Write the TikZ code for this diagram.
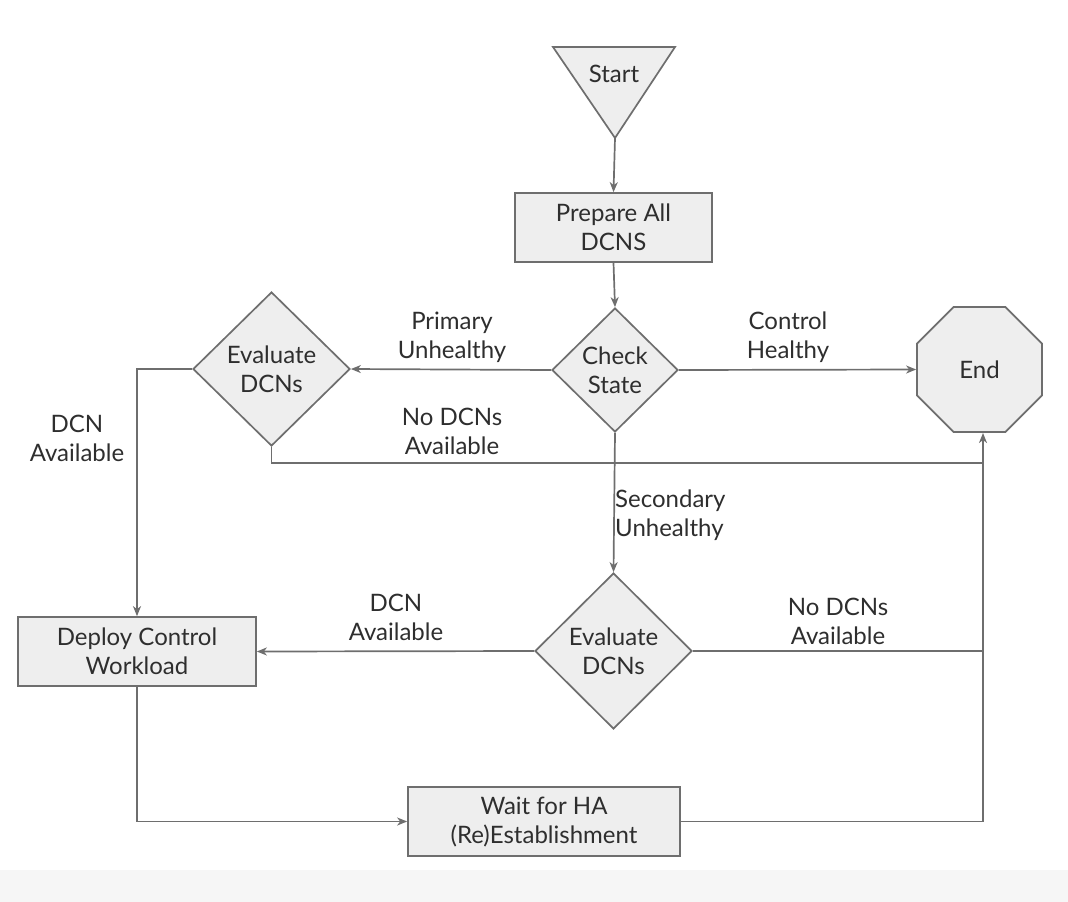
\documentclass[tikz,border=0pt]{standalone}
\usepackage{fontspec}
\setmainfont{Lato}
\usetikzlibrary{shapes.geometric,arrows.meta}
\definecolor{fillg}{HTML}{EEEEEE}
\definecolor{lineg}{HTML}{6E6E6E}
\definecolor{textg}{HTML}{2E2E2E}
\definecolor{stripg}{HTML}{F6F6F6}
\begin{document}
\begin{tikzpicture}[x=1pt,y=-1pt,
  font=\fontsize{24}{29}\selectfont, text=textg,
  shp/.style={draw=lineg, fill=fillg, line width=1.7pt, inner sep=0pt, align=center},
  box/.style={shp, rectangle},
  dia/.style={shp, diamond, aspect=1},
  oct/.style={shp, regular polygon, regular polygon sides=8, minimum size=135.3pt},
  lbl/.style={align=center, inner sep=0pt},
  ln/.style={draw=lineg, line width=1.7pt},
  arr/.style={ln, -{Stealth[length=10pt,width=8pt,inset=3pt]}}
]
\useasboundingbox (0,0) rectangle (1068,902);
\fill[stripg] (0,870) rectangle (1068,902);

% start triangle
\filldraw[draw=lineg, fill=fillg, line width=1.7pt, line join=miter] (553,47) -- (675,47) -- (615,138) -- cycle;
\node[lbl] (start) at (614,74) {Start};
\coordinate (startapex) at (615,138);

\node[box, minimum width=197pt, minimum height=69pt] (prep) at (613.5,227.5) {Prepare All\\DCNS};
\node[dia, minimum width=126pt, minimum height=124pt] (check) at (615,370) {Check\\State};
\node[dia, minimum width=157pt, minimum height=154pt] (eval1) at (271.5,369) {Evaluate\\DCNs};
\node[oct] (end) at (979.5,369.5) {End};
\node[dia, minimum width=157pt, minimum height=156pt] (eval2) at (613.5,651) {Evaluate\\DCNs};
\node[box, minimum width=238pt, minimum height=69pt] (deploy) at (137,651.5) {Deploy Control\\Workload};
\node[box, minimum width=272pt, minimum height=69pt] (wait) at (544,821.5) {Wait for HA\\(Re)Establishment};

\coordinate (jtop) at (983,463);
\coordinate (jmid) at (983,651);
\coordinate (jend) at (983,433);

% connectors
\draw[arr] (startapex) -- (prep.north);
\draw[arr] (prep.south) -- (check.north);
\draw[arr] (check.west) -- (eval1.east);
\draw[arr] (check.east) -- (end.west);
\draw[arr] (check.south) -- (eval2.north);
\draw[ln] (eval1.south) |- (jtop);
\draw[ln] (eval2.east) -- (jmid);
\draw[arr] (wait.east) -| (jend);
\draw[arr] (eval1.west) -| (deploy.north);
\draw[arr] (eval2.west) -- (deploy.east);
\draw[arr] (deploy.south) |- (wait.west);

% labels
\node[lbl] (l1) at (452,337) {Primary\\Unhealthy};
\node[lbl] (l2) at (788,337) {Control\\Healthy};
\node[lbl] (l3) at (452,431) {No DCNs\\Available};
\node[lbl] (l4) at (77,438) {DCN\\Available};
\node[lbl, anchor=west, align=left] (l5) at (615,515) {Secondary\\Unhealthy};
\node[lbl] (l6) at (396,617) {DCN\\Available};
\node[lbl] (l7) at (838,621) {No DCNs\\Available};
\end{tikzpicture}
\end{document}
